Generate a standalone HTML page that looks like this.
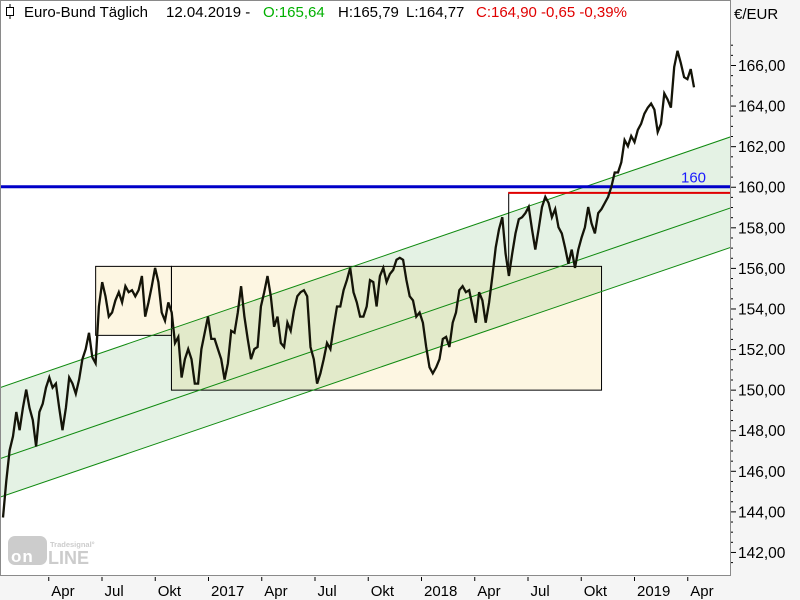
<!DOCTYPE html>
<html><head><meta charset="utf-8"><style>
html,body{margin:0;padding:0;background:#fff;}
svg{display:block;font-family:"Liberation Sans",Tahoma,sans-serif;}
</style></head><body>
<svg id="chart" width="800" height="600" viewBox="0 0 800 600">
  <defs><clipPath id="clip"><rect x="0" y="0" width="730" height="575"/></clipPath></defs>
  <rect x="0" y="0" width="800" height="600" fill="#ffffff"/>
  <rect x="731" y="0" width="69" height="600" fill="#f5f5f5"/>
  <rect x="0" y="576" width="800" height="24" fill="#f5f5f5"/>
  <g id="plot" clip-path="url(#clip)"></g>
  <rect x="0.5" y="0.5" width="730" height="575" fill="none" stroke="#8a8a8a" stroke-width="1"/>
  <g>
    <g>
      <line x1="10" y1="4" x2="10" y2="19" stroke="#000" stroke-width="1"/>
      <rect x="6.5" y="7.5" width="7" height="8" fill="#fff" stroke="#000"/>
    </g>
    <text x="24" y="17" font-size="15" fill="#000">Euro-Bund Täglich<tspan x="166">12.04.2019 -</tspan><tspan x="263" fill="#00b000">O:165,64</tspan><tspan x="338" fill="#000">H:165,79</tspan><tspan x="406" fill="#000">L:164,77</tspan><tspan x="476" fill="#e00000">C:164,90 -0,65 -0,39%</tspan></text>
  </g>
  <text x="734" y="19" font-size="15" fill="#000">€/EUR</text>
  <g id="yaxis"></g>
  <g id="xaxis"></g>
  <g opacity="0.85">
    <rect x="8" y="536" width="39" height="29" rx="7" fill="#c4c4c4"/>
    <text x="11" y="562" font-size="17" font-weight="bold" fill="#fff" letter-spacing="1">on</text>
    <text x="50" y="547" font-size="7.5" font-weight="bold" fill="#c4c4c4">Tradesignal°</text>
    <text x="48" y="564" font-size="18" font-weight="bold" fill="#c4c4c4">LINE</text>
  </g>
</svg>
<script>
const yTicks = [142,144,146,148,150,152,154,156,158,160,162,164,166];
const xTickLabels = ["Apr","Jul","Okt","2017","Apr","Jul","Okt","2018","Apr","Jul","Okt","2019","Apr"];
const xTickMonths = [3,6,9,12,15,18,21,24,27,30,33,36,39];
const startMonth = 0.34;
const endMonth = 39.27;
const prices = [143.7,145.5,147.0,147.7,148.9,148.0,149.1,150.0,149.1,148.5,147.2,148.9,149.3,150.1,150.6,150.1,150.3,149.1,148.0,149.1,150.6,150.3,149.8,150.5,151.5,152.0,152.8,151.6,151.3,154.1,155.3,154.6,153.6,153.8,154.4,154.8,154.3,155.1,154.8,154.9,154.6,154.9,155.6,153.6,154.3,155.1,156.0,155.3,153.8,153.4,154.3,153.8,152.3,152.6,150.6,151.5,152.0,151.5,150.3,150.3,152.0,152.8,153.6,152.5,152.5,152.0,151.5,150.5,151.3,152.9,152.8,153.8,155.1,153.6,152.5,151.5,152.0,152.1,
154.1,154.8,155.6,154.6,153.1,153.6,152.3,152.1,153.3,152.9,153.9,154.6,154.8,154.9,154.6,152.1,151.5,150.3,150.8,151.5,152.3,152.0,153.1,154.1,154.1,154.9,155.4,156.0,154.8,154.3,153.6,153.6,154.1,155.4,155.3,154.1,155.6,156.0,155.3,155.7,155.9,156.4,156.5,156.4,155.4,154.6,154.4,153.6,153.8,153.3,152.1,151.1,150.8,151.1,151.5,152.5,152.6,152.1,153.3,153.8,154.9,155.1,154.8,154.9,154.1,153.3,154.8,154.4,153.3,154.3,155.6,157.0,
157.9,158.5,156.7,155.6,156.7,157.7,158.4,158.5,158.7,159.0,157.9,156.9,157.9,159.0,159.5,159.2,158.5,158.9,158.0,157.7,157.0,156.2,156.9,156.0,156.9,157.5,158.0,159.0,158.2,157.7,158.7,158.9,159.2,159.5,160.0,160.7,
160.7,161.2,162.3,162.0,162.5,162.2,162.8,163.1,163.6,163.9,164.1,163.8,162.7,163.1,164.6,164.3,163.9,165.9,166.7,166.1,165.4,165.3,165.8,164.9];
// channel: [startMonth, startPrice, endMonth, endPrice]
const channelUpper = [0.17, 150.1, 41.3, 162.45];
const channelMid = [0.17, 146.6, 41.3, 158.95];
const channelLower = [0.17, 144.7, 41.3, 157.0];
// boxes: [fromMonth, toMonth, lowPrice, highPrice]
const box1 = [5.53, 9.8, 152.7, 156.1];
const box2 = [9.8, 34.03, 150.0, 156.1];
const level160 = 160;
const resistance = [28.8, 159.7];

const NS = "http://www.w3.org/2000/svg";
function X(m){ return 210 + (m - 12) * 17.75; }
function Y(p){ return 65 + (166 - p) * 20.29; }
function mk(tag, attrs, parent){
  const e = document.createElementNS(NS, tag);
  for (const k in attrs) e.setAttribute(k, attrs[k]);
  parent.appendChild(e);
  return e;
}
const plot = document.getElementById('plot');
function chanY(c, m){ return c[1] + (c[3]-c[1]) * (m - c[0]) / (c[2]-c[0]); }

[box1, box2].forEach((b, i) => {
  const r = mk('rect', {x:X(b[0]), y:Y(b[3]), width:X(b[1])-X(b[0]), height:Y(b[2])-Y(b[3]), fill:'#fdf6e2'}, plot);
  
  
});
const m0 = channelUpper[0], m1 = channelUpper[2];
const poly = mk('polygon', {points:[[X(m0),Y(chanY(channelUpper,m0))],[X(m1),Y(chanY(channelUpper,m1))],[X(m1),Y(chanY(channelLower,m1))],[X(m0),Y(chanY(channelLower,m0))]].map(p=>p.join(',')).join(' '), fill:'rgba(0,128,0,0.105)'}, plot);


[box1, box2].forEach((b, i) => {
  const r = mk('rect', {x:X(b[0])+0.5, y:Y(b[3])+0.5, width:X(b[1])-X(b[0]), height:Y(b[2])-Y(b[3]), fill:'none', stroke:'#000', 'stroke-width':1}, plot);
  
  
});
[channelUpper, channelMid, channelLower].forEach((c, i) => {
  const l = mk('line', {x1:X(m0), y1:Y(chanY(c,m0)), x2:X(m1), y2:Y(chanY(c,m1)), stroke:'#108a10', 'stroke-width':1}, plot);
  
  
});
const vl = mk('line', {x1:X(resistance[0])+0.5, y1:Y(resistance[1]), x2:X(resistance[0])+0.5, y2:Y(box2[3]), stroke:'#000', 'stroke-width':1}, plot);


const rl = mk('line', {x1:X(resistance[0]), y1:Y(resistance[1]), x2:730, y2:Y(resistance[1]), stroke:'#e00000', 'stroke-width':2}, plot);


const bl = mk('line', {x1:0, y1:Y(level160), x2:730, y2:Y(level160), stroke:'#0000c8', 'stroke-width':3}, plot);


const bt = mk('text', {x:681, y:Y(level160)-4, 'font-size':15, fill:'#1a1aff'}, plot);
bt.textContent = String(level160);



const n = prices.length;
const pts = prices.map((p, i) => [X(startMonth + (endMonth - startMonth) * i / (n-1)), Y(p)]);
const pl = mk('polyline', {points:pts.map(p=>p[0].toFixed(1)+','+p[1].toFixed(1)).join(' '), fill:'none', stroke:'#141408', 'stroke-width':2.3, 'stroke-linejoin':'miter'}, plot);



const ya = document.getElementById('yaxis');
for (let v = 141.5; v <= 167.01; v += 0.5) {
  const major = Math.abs(v - Math.round(v)) < 0.01 && Math.round(v) % 2 === 0;
  const t = mk('line', {x1:731, y1:Y(v)+0.5, x2:major?736:733, y2:Y(v)+0.5, stroke:'#000', 'stroke-width':1}, ya);
  
  
}
yTicks.forEach(v => {
  const t = mk('text', {x:738, y:Y(v)+6, 'font-size':15.5, fill:'#000'}, ya);
  t.textContent = v.toFixed(2).replace('.', ',');
  
  
});
const xa = document.getElementById('xaxis');
xTickLabels.forEach((lab, i) => {
  const x = X(xTickMonths[i]) - 2;
  const t = mk('line', {x1:x+0.5, y1:577, x2:x+0.5, y2:581, stroke:'#000', 'stroke-width':1}, xa);
  
  
  const tx = mk('text', {x:x+3, y:596, 'font-size':15, fill:'#000'}, xa);
  tx.textContent = lab;
  
  
});
</script>
</body></html>
